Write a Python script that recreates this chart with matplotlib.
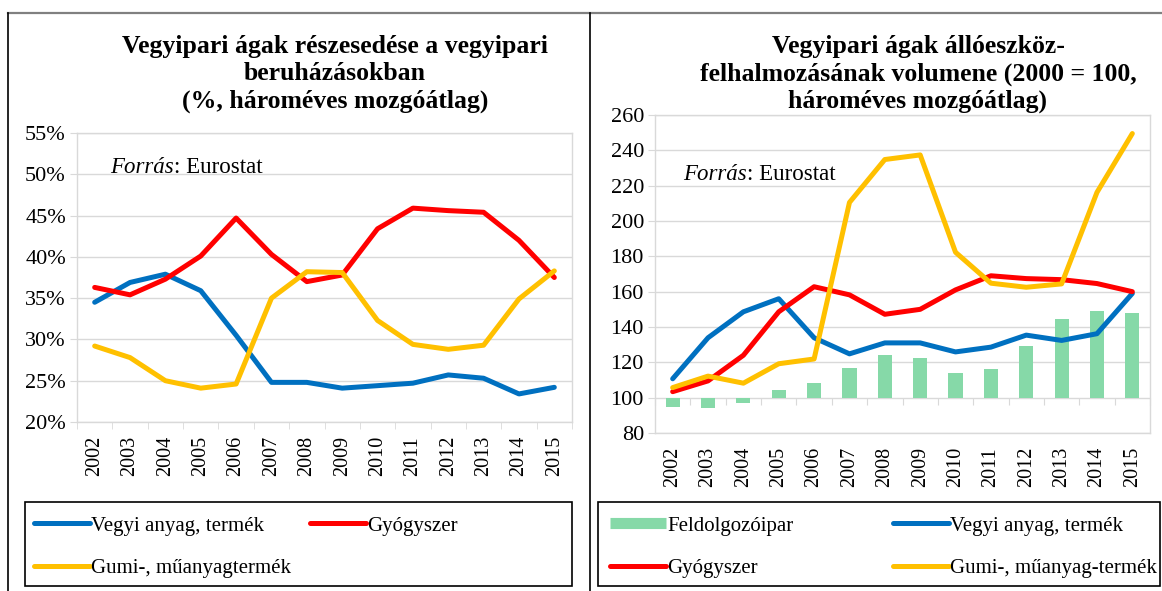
import matplotlib
matplotlib.use("Agg")
import matplotlib.pyplot as plt
import numpy as np
from matplotlib.lines import Line2D
from matplotlib.patches import Rectangle
from matplotlib.ticker import FixedLocator, PercentFormatter

plt.rcParams['font.family'] = ['Liberation Serif', 'DejaVu Serif']

# Data
years = [str(y) for y in range(2002, 2016)]

# left chart: share in chemical industry investment (%)
share_vegyi = [34.5, 36.9, 37.9, 35.9, 30.5, 24.8, 24.8, 24.1, 24.4, 24.7, 25.7, 25.3, 23.4, 24.2]
share_gyogy = [36.3, 35.4, 37.3, 40.1, 44.7, 40.3, 37.0, 37.8, 43.4, 45.9, 45.6, 45.4, 42.0, 37.5]
share_gumi = [29.2, 27.8, 25.0, 24.1, 24.6, 35.0, 38.2, 38.1, 32.3, 29.4, 28.8, 29.3, 34.9, 38.3]

# right chart: volume index (2000 = 100)
vol_feldolg = [94.5, 94.0, 97.1, 104.4, 108.2, 116.8, 124.4, 122.5, 113.9, 116.0, 129.0, 144.6, 148.8, 148.0]
vol_vegyi = [110.7, 133.9, 148.6, 156.0, 133.9, 124.8, 131.0, 131.0, 125.9, 128.6, 135.4, 132.4, 136.2, 159.0]
vol_gyogy = [103.4, 109.5, 124.0, 148.6, 162.8, 158.2, 147.2, 150.0, 161.0, 169.0, 167.4, 166.8, 164.6, 160.0]
vol_gumi = [105.7, 112.2, 108.2, 119.2, 121.9, 210.5, 234.8, 237.4, 182.3, 164.8, 162.5, 164.4, 216.2, 249.5]

BLUE = '#0070c0'
RED = '#ff0000'
YELLOW = '#ffc000'
GREEN = '#86d9a8'
GRID = '#d9d9d9'
LW = 3.6
W, H = 1162, 591

fig = plt.figure(figsize=(W / 100, H / 100), dpi=100)
x = np.arange(len(years))


def style_axes(ax):
    for s in ax.spines.values():
        s.set_color(GRID)
        s.set_linewidth(1.0)
    ax.grid(axis='y', color=GRID, linewidth=1.0)
    ax.set_axisbelow(True)
    ax.set_xlim(-0.5, len(years) - 0.5)
    ax.set_xticks(x)
    ax.set_xticklabels(years, rotation=90, fontsize=14.5)
    ax.xaxis.set_minor_locator(FixedLocator(np.arange(-0.5, len(years), 1.0)))
    ax.tick_params(axis='x', which='major', length=0, pad=10)
    ax.tick_params(axis='y', length=5, color=GRID, labelsize=16, pad=3)


def source_note(ax, xa, ya):
    t = ax.text(xa, ya, 'Forrás', style='italic', transform=ax.transAxes, fontsize=16.5)
    ax.annotate(': Eurostat', xy=(1, 0), xycoords=t, va='bottom', fontsize=16.5)


def plot_line(ax, vals, color, label):
    ax.plot(x, vals, color=color, lw=LW, label=label,
            solid_capstyle='round', solid_joinstyle='round')


# ---- left chart ----
ax1 = fig.add_axes([77 / W, 1 - 422 / H, 495 / W, 289 / H])
plot_line(ax1, share_vegyi, BLUE, 'Vegyi anyag, termék')
plot_line(ax1, share_gyogy, RED, 'Gyógyszer')
plot_line(ax1, share_gumi, YELLOW, 'Gumi-, műanyagtermék')
ax1.set_ylim(20, 55)
ax1.set_yticks(np.arange(20, 56, 5))
ax1.yaxis.set_major_formatter(PercentFormatter(decimals=0))
style_axes(ax1)
ax1.tick_params(axis='x', which='minor', length=5, color=GRID)
source_note(ax1, 0.067, 0.86)
fig.text(335 / W, 1 - 74 / H, 'Vegyipari ágak részesedése a vegyipari\nberuházásokban\n(%, hároméves mozgóátlag)',
         ha='center', va='center', fontsize=18.5, fontweight='bold', linespacing=1.22)

# ---- right chart ----
ax2 = fig.add_axes([655 / W, 1 - 433 / H, 495 / W, 318 / H])
ymin2, ymax2 = 80, 260
ax2.bar(x, np.array(vol_feldolg) - 100, bottom=100, width=0.4, color=GREEN, label='Feldolgozóipar')
plot_line(ax2, vol_vegyi, BLUE, 'Vegyi anyag, termék')
plot_line(ax2, vol_gyogy, RED, 'Gyógyszer')
plot_line(ax2, vol_gumi, YELLOW, 'Gumi-, műanyag-termék')
ax2.set_ylim(ymin2, ymax2)
ax2.set_yticks(np.arange(80, 261, 20))
style_axes(ax2)
ax2.tick_params(axis='x', which='minor', length=0)
# category ticks sit on the 100 line
sec = ax2.secondary_xaxis((100 - ymin2) / (ymax2 - ymin2))
sec.spines['bottom'].set_visible(False)
sec.set_xticks(np.arange(-0.5, len(years), 1.0))
sec.set_xticklabels([])
sec.tick_params(length=5, color=GRID)
source_note(ax2, 0.057, 0.797)
fig.text(918 / W, 1 - 74 / H, 'Vegyipari ágak állóeszköz-\nfelhalmozásának volumene (2000 = 100,\nhároméves mozgóátlag)',
         ha='center', va='center', fontsize=18.5, fontweight='bold', linespacing=1.22)

# ---- legends ----
leg_kw = dict(loc='upper left', frameon=False, borderaxespad=0, borderpad=0,
              fontsize=15, handlelength=2.7, handletextpad=0.05, labelspacing=1.1)

h1, l1 = ax1.get_legend_handles_labels()
order1 = [0, 2, 1]
fig.legend([h1[i] for i in order1], [l1[i] for i in order1], ncol=2,
           bbox_to_anchor=(34 / W, 1 - 516 / H), columnspacing=0.9, **leg_kw)

h2, l2 = ax2.get_legend_handles_labels()
bar_handle = Line2D([], [], color=GREEN, lw=8, solid_capstyle='butt')
hmap = dict(zip(l2, h2))
names2 = ['Feldolgozóipar', 'Gyógyszer', 'Vegyi anyag, termék', 'Gumi-, műanyag-termék']
handles2 = [bar_handle if n == 'Feldolgozóipar' else hmap[n] for n in names2]
fig.legend(handles2, names2, ncol=2,
           bbox_to_anchor=(610 / W, 1 - 516 / H), columnspacing=4.75, **leg_kw)

# legend boxes
for x0, x1 in [(25, 572), (598, 1160)]:
    fig.add_artist(Rectangle((x0 / W, 1 - 586 / H), (x1 - x0) / W, 84 / H,
                             transform=fig.transFigure, fill=False,
                             edgecolor='black', lw=1.2))

# ---- outer frame lines ----
fig.add_artist(Line2D([8 / W, 1.0], [1 - 13 / H] * 2, color='#808080', lw=1.6))
fig.add_artist(Line2D([8 / W] * 2, [0, 1 - 13 / H], color='black', lw=1.2))
fig.add_artist(Line2D([590 / W] * 2, [0, 1 - 13 / H], color='black', lw=1.2))

fig.savefig('out.png', dpi=100)
